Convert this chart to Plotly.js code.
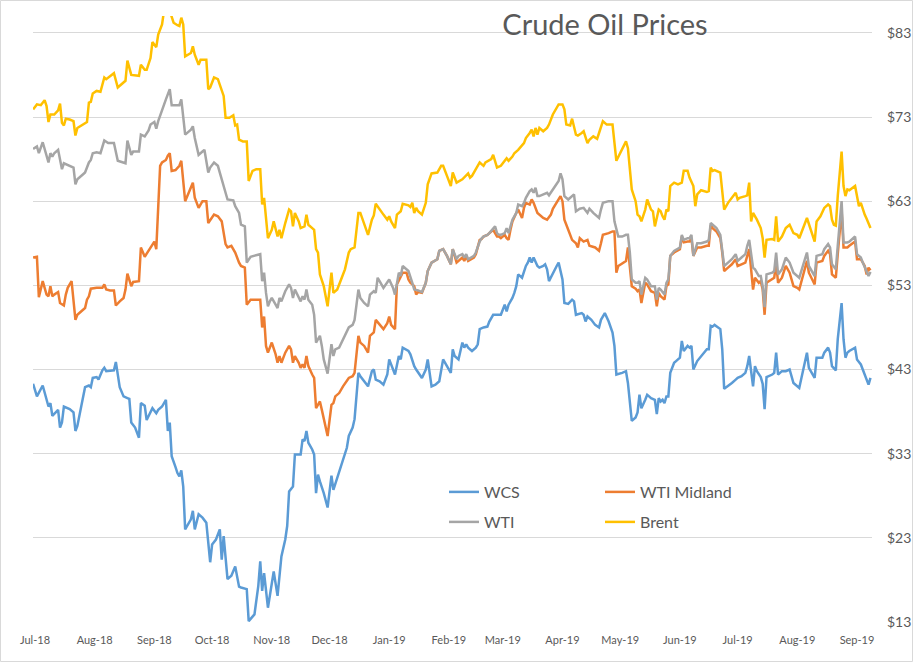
<!DOCTYPE html>
<html>
<head>
<meta charset="utf-8">
<script src="https://cdn.plot.ly/plotly-3.0.1.min.js"></script>
<style>html,body{margin:0;padding:0;background:#fff;}#chart{width:913px;height:662px;}</style>
</head>
<body>
<div id="chart"></div>
<script>
// ---- Data ----
const seriesNames = ["WCS", "WTI Midland", "WTI", "Brent"];
const monthTicks = ["2018-07-01","2018-08-01","2018-09-01","2018-10-01","2018-11-01","2018-12-01","2019-01-01","2019-02-01","2019-03-01","2019-04-01","2019-05-01","2019-06-01","2019-07-01","2019-08-01","2019-09-01"];
const priceTicks = [13, 23, 33, 43, 53, 63, 73, 83];
const priceTickLabels = ["$13", "$23", "$33", "$43", "$53", "$63", "$73", "$83"];

const brentDates = [
"2018-06-30","2018-07-02","2018-07-04","2018-07-06","2018-07-07","2018-07-08","2018-07-09","2018-07-11","2018-07-13","2018-07-14","2018-07-15","2018-07-16","2018-07-17","2018-07-19","2018-07-21","2018-07-22","2018-07-23","2018-07-25","2018-07-28","2018-07-29","2018-07-30","2018-07-31",
"2018-08-02","2018-08-04","2018-08-05","2018-08-06","2018-08-07","2018-08-09","2018-08-11","2018-08-13","2018-08-15","2018-08-17","2018-08-18","2018-08-20","2018-08-24","2018-08-25","2018-08-27","2018-08-28","2018-08-30","2018-08-31",
"2018-09-02","2018-09-03","2018-09-05","2018-09-06","2018-09-09","2018-09-10","2018-09-11","2018-09-13","2018-09-14","2018-09-15","2018-09-16","2018-09-17","2018-09-20","2018-09-21","2018-09-22","2018-09-24","2018-09-25","2018-09-28","2018-09-29","2018-09-30",
"2018-10-02","2018-10-04","2018-10-05","2018-10-07","2018-10-08","2018-10-10","2018-10-12","2018-10-13","2018-10-14","2018-10-15","2018-10-17","2018-10-19","2018-10-20","2018-10-22","2018-10-24","2018-10-26","2018-10-27","2018-10-28","2018-10-30",
"2018-11-01","2018-11-02","2018-11-04","2018-11-05","2018-11-06","2018-11-08","2018-11-10","2018-11-11","2018-11-12","2018-11-13","2018-11-15","2018-11-16","2018-11-18","2018-11-19","2018-11-20","2018-11-22","2018-11-23","2018-11-24","2018-11-25","2018-11-26","2018-11-28","2018-11-30",
"2018-12-02","2018-12-03","2018-12-05","2018-12-07","2018-12-09","2018-12-11","2018-12-12","2018-12-14","2018-12-16","2018-12-17","2018-12-19","2018-12-21","2018-12-23","2018-12-24","2018-12-25","2018-12-27","2018-12-29","2018-12-31",
"2019-01-01","2019-01-02","2019-01-04","2019-01-05","2019-01-07","2019-01-08","2019-01-11","2019-01-12","2019-01-13","2019-01-14","2019-01-15","2019-01-16","2019-01-18","2019-01-20","2019-01-21","2019-01-23","2019-01-26","2019-01-28","2019-01-29","2019-01-31",
"2019-02-02","2019-02-03","2019-02-05","2019-02-08","2019-02-11","2019-02-12","2019-02-13","2019-02-15","2019-02-17","2019-02-19","2019-02-20","2019-02-23","2019-02-24","2019-02-26","2019-02-28",
"2019-03-02","2019-03-03","2019-03-04","2019-03-06","2019-03-07","2019-03-09","2019-03-12","2019-03-13","2019-03-15","2019-03-16","2019-03-17","2019-03-18","2019-03-19","2019-03-20","2019-03-22","2019-03-24","2019-03-25","2019-03-27","2019-03-30",
"2019-04-01","2019-04-02","2019-04-03","2019-04-05","2019-04-06","2019-04-08","2019-04-09","2019-04-11","2019-04-12","2019-04-14","2019-04-15","2019-04-17","2019-04-19","2019-04-20","2019-04-22","2019-04-24","2019-04-26","2019-04-27","2019-04-29",
"2019-05-01","2019-05-03","2019-05-04","2019-05-05","2019-05-07","2019-05-09","2019-05-10","2019-05-11","2019-05-12","2019-05-14","2019-05-15","2019-05-16","2019-05-17","2019-05-18","2019-05-19","2019-05-21","2019-05-22","2019-05-23","2019-05-24","2019-05-25","2019-05-26","2019-05-27","2019-05-29","2019-05-31",
"2019-06-02","2019-06-03","2019-06-05","2019-06-06","2019-06-08","2019-06-09","2019-06-10","2019-06-12","2019-06-15","2019-06-16","2019-06-17","2019-06-18","2019-06-19","2019-06-22","2019-06-23","2019-06-24","2019-06-26","2019-06-28","2019-06-30",
"2019-07-01","2019-07-02","2019-07-05","2019-07-06","2019-07-07","2019-07-08","2019-07-09","2019-07-11","2019-07-13","2019-07-14","2019-07-15","2019-07-16","2019-07-19","2019-07-20","2019-07-21","2019-07-22","2019-07-24","2019-07-26","2019-07-28","2019-07-30",
"2019-08-01","2019-08-02","2019-08-06","2019-08-08","2019-08-10","2019-08-11","2019-08-13","2019-08-15","2019-08-17","2019-08-18","2019-08-19","2019-08-20","2019-08-21","2019-08-22","2019-08-24","2019-08-25","2019-08-26","2019-08-27","2019-08-28","2019-08-31",
"2019-09-01","2019-09-02","2019-09-03","2019-09-04","2019-09-05","2019-09-06","2019-09-08"];
const brentValues = [
73.9,74.5,74.4,75.0,74.3,72.4,73.3,73.3,73.8,74.6,72.3,72.0,72.8,72.7,72.5,70.8,71.7,72.0,72.4,74.7,74.8,75.8,
76.1,76.0,76.9,77.7,77.5,77.9,78.2,76.5,76.9,77.3,79.7,78.0,77.9,79.2,78.6,78.6,80.0,81.9,
81.3,82.8,84.0,85.6,85.6,85.0,84.2,83.9,83.8,84.8,84.0,80.2,80.6,81.4,80.4,79.2,79.8,79.8,76.3,76.5,
77.7,77.5,76.9,75.5,72.9,72.9,73.2,72.0,72.1,70.3,70.1,70.1,65.4,66.6,66.8,66.8,62.6,63.4,58.6,
59.6,60.6,58.8,59.6,58.6,60.4,62.0,61.8,60.0,61.6,60.6,59.8,60.0,61.4,60.2,59.8,59.6,57.3,56.9,54.3,52.9,50.5,
54.5,52.1,52.5,53.7,54.9,56.9,57.3,57.5,61.6,61.6,60.2,59.0,60.8,61.3,62.7,62.0,61.4,60.8,
61.2,60.6,59.8,61.4,61.8,62.7,62.5,62.3,62.8,61.6,62.2,61.8,61.4,62.8,65.0,66.3,66.4,67.2,67.2,66.0,
64.8,66.4,65.2,65.6,66.3,65.8,66.0,66.8,67.6,67.2,67.6,68.0,68.5,67.0,67.2,
67.8,68.1,67.8,68.3,68.7,69.1,69.9,70.5,71.1,71.5,70.7,71.7,70.9,71.7,71.3,71.7,72.1,73.3,74.5,
74.5,73.9,72.1,72.0,72.8,70.9,70.8,71.1,71.3,69.9,70.3,70.7,70.4,71.1,72.5,72.1,72.1,72.1,67.8,
68.7,69.5,70.1,69.3,64.4,63.0,61.4,61.2,60.6,62.0,63.2,62.6,62.0,61.8,60.0,62.0,61.8,61.2,60.8,62.0,61.8,64.8,65.2,65.0,
65.2,66.6,66.6,65.8,64.8,62.4,63.8,64.3,64.1,64.2,67.0,66.6,66.7,66.4,64.2,62.0,62.8,63.4,64.0,
63.2,63.4,63.6,63.7,65.2,60.6,61.6,60.8,59.8,58.6,56.3,58.4,58.5,58.4,61.2,58.2,58.8,59.8,60.2,59.2,
59.0,58.6,61.0,59.6,58.2,60.6,61.2,62.2,62.6,62.4,60.8,60.2,60.1,63.6,68.9,64.8,63.6,64.4,64.3,64.8,
63.6,62.4,62.8,62.0,61.4,60.9,59.8];

const wtiDates = [
"2018-06-30","2018-07-02","2018-07-03","2018-07-05","2018-07-08","2018-07-09","2018-07-10","2018-07-11","2018-07-13","2018-07-15","2018-07-16","2018-07-19","2018-07-21","2018-07-22","2018-07-23","2018-07-26","2018-07-27","2018-07-29","2018-07-30","2018-07-31",
"2018-08-02","2018-08-04","2018-08-05","2018-08-06","2018-08-08","2018-08-11","2018-08-13","2018-08-16","2018-08-17","2018-08-18","2018-08-20","2018-08-21","2018-08-24","2018-08-25","2018-08-27","2018-08-29","2018-08-30",
"2018-09-01","2018-09-02","2018-09-03","2018-09-05","2018-09-06","2018-09-07","2018-09-09","2018-09-10","2018-09-12","2018-09-14","2018-09-15","2018-09-17","2018-09-20","2018-09-21","2018-09-22","2018-09-24","2018-09-26","2018-09-27","2018-09-29","2018-09-30",
"2018-10-02","2018-10-04","2018-10-05","2018-10-07","2018-10-09","2018-10-12","2018-10-13","2018-10-15","2018-10-16","2018-10-18","2018-10-19","2018-10-21","2018-10-23","2018-10-26","2018-10-27","2018-10-28","2018-10-29","2018-10-30","2018-10-31",
"2018-11-01","2018-11-03","2018-11-04","2018-11-05","2018-11-06","2018-11-08","2018-11-10","2018-11-11","2018-11-12","2018-11-13","2018-11-16","2018-11-17","2018-11-18","2018-11-19","2018-11-20","2018-11-22","2018-11-23","2018-11-24","2018-11-26","2018-11-27","2018-11-28","2018-11-30",
"2018-12-02","2018-12-03","2018-12-04","2018-12-06","2018-12-08","2018-12-11","2018-12-13","2018-12-14","2018-12-16","2018-12-17","2018-12-19","2018-12-21","2018-12-22","2018-12-24","2018-12-25","2018-12-26","2018-12-27","2018-12-29",
"2019-01-01","2019-01-03","2019-01-04","2019-01-06","2019-01-07","2019-01-08","2019-01-11","2019-01-12","2019-01-13","2019-01-14","2019-01-16","2019-01-18","2019-01-20","2019-01-21","2019-01-23","2019-01-26","2019-01-27","2019-01-29","2019-01-31",
"2019-02-02","2019-02-03","2019-02-05","2019-02-06","2019-02-08","2019-02-09","2019-02-10","2019-02-11","2019-02-14","2019-02-15","2019-02-17","2019-02-18","2019-02-19","2019-02-21","2019-02-22","2019-02-24","2019-02-25","2019-02-26","2019-02-27","2019-02-28",
"2019-03-02","2019-03-03","2019-03-04","2019-03-05","2019-03-06","2019-03-08","2019-03-09","2019-03-11","2019-03-12","2019-03-13","2019-03-15","2019-03-16","2019-03-17","2019-03-18","2019-03-19","2019-03-20","2019-03-22","2019-03-24","2019-03-25","2019-03-27","2019-03-28","2019-03-30","2019-03-31",
"2019-04-01","2019-04-02","2019-04-04","2019-04-07","2019-04-08","2019-04-10","2019-04-12","2019-04-14","2019-04-15","2019-04-17","2019-04-20","2019-04-21","2019-04-22","2019-04-25","2019-04-27","2019-04-28","2019-04-30",
"2019-05-02","2019-05-04","2019-05-05","2019-05-06","2019-05-07","2019-05-09","2019-05-10","2019-05-11","2019-05-12","2019-05-14","2019-05-15","2019-05-16","2019-05-17","2019-05-19","2019-05-20","2019-05-21","2019-05-22","2019-05-24","2019-05-25","2019-05-26","2019-05-27","2019-05-29",
"2019-06-01","2019-06-02","2019-06-03","2019-06-05","2019-06-06","2019-06-07","2019-06-08","2019-06-10","2019-06-12","2019-06-15","2019-06-16","2019-06-17","2019-06-18","2019-06-20","2019-06-22","2019-06-23","2019-06-24","2019-06-26","2019-06-28","2019-06-30",
"2019-07-01","2019-07-03","2019-07-05","2019-07-06","2019-07-07","2019-07-09","2019-07-10","2019-07-12","2019-07-13","2019-07-14","2019-07-15","2019-07-16","2019-07-19","2019-07-20","2019-07-21","2019-07-22","2019-07-24","2019-07-26","2019-07-28","2019-07-30",
"2019-08-01","2019-08-02","2019-08-06","2019-08-07","2019-08-10","2019-08-11","2019-08-14","2019-08-15","2019-08-17","2019-08-18","2019-08-19","2019-08-21","2019-08-22","2019-08-24","2019-08-25","2019-08-27","2019-08-28","2019-08-31",
"2019-09-01","2019-09-03","2019-09-04","2019-09-06","2019-09-07","2019-09-08"];
const wtiValues = [
69.2,69.5,68.7,70.0,67.6,68.7,68.3,68.7,69.1,66.8,67.5,67.2,67.0,65.0,65.6,66.2,66.4,67.6,67.9,68.7,
68.8,68.7,69.6,70.2,69.9,69.9,67.8,67.6,67.5,70.2,68.5,68.9,68.9,70.9,70.7,71.4,72.1,
72.4,71.6,72.5,73.9,74.4,75.1,76.3,74.4,74.4,74.4,75.1,70.9,71.5,71.9,70.5,68.5,68.9,69.1,66.4,67.0,
67.6,67.2,66.4,64.8,63.2,63.1,62.4,61.6,60.2,60.0,55.7,56.4,56.5,56.7,53.5,54.5,52.1,50.5,51.1,
51.5,50.7,50.3,51.5,51.1,52.3,53.1,52.7,51.5,52.5,51.1,51.7,51.3,52.5,51.3,50.7,49.5,46.2,47.0,45.8,44.2,42.5,
46.0,44.6,45.4,45.6,46.6,48.0,48.3,48.9,52.5,51.5,50.9,50.5,51.9,52.3,52.1,53.9,53.5,52.7,
53.7,52.7,51.9,54.5,54.1,55.3,54.7,54.1,53.3,52.5,52.4,52.2,53.3,54.7,55.7,56.1,57.1,57.3,56.5,
55.5,57.3,56.1,56.5,56.7,56.3,56.7,56.1,56.5,56.9,58.2,58.6,58.8,59.0,59.2,59.8,60.0,59.2,59.0,59.0,
59.2,59.8,59.2,60.0,60.8,61.6,62.6,62.4,62.8,63.4,64.2,64.4,64.0,64.6,63.6,63.6,63.8,64.0,63.7,64.4,64.8,65.4,66.3,
65.6,63.6,63.2,63.8,61.8,62.1,62.2,61.6,62.1,61.6,61.0,62.0,62.8,63.0,63.0,60.6,58.8,
58.8,59.0,59.0,56.9,53.7,53.3,53.3,53.5,51.9,53.9,53.7,53.3,52.9,52.9,51.3,52.7,52.5,51.9,53.3,53.7,56.5,57.1,
57.5,59.0,58.4,58.6,58.6,59.0,56.5,58.0,58.0,58.2,58.4,60.4,60.2,59.8,59.0,57.3,55.3,55.7,56.1,56.7,
55.9,56.3,56.7,57.7,58.4,55.1,54.9,54.1,54.1,52.9,50.4,54.3,54.5,54.7,56.9,54.3,54.9,56.3,55.7,54.5,
54.1,53.9,56.9,55.3,54.1,56.5,56.7,57.3,57.9,57.5,55.5,54.9,57.7,63.0,58.1,58.1,58.2,58.8,
56.7,56.3,55.7,54.7,54.1,54.6];

const midlandDates = [
"2018-06-30","2018-07-02","2018-07-03","2018-07-04","2018-07-05","2018-07-07","2018-07-08","2018-07-09","2018-07-10","2018-07-11","2018-07-13","2018-07-14","2018-07-16","2018-07-17","2018-07-18","2018-07-20","2018-07-21","2018-07-22","2018-07-23","2018-07-25","2018-07-27","2018-07-28","2018-07-29","2018-07-30",
"2018-08-02","2018-08-05","2018-08-06","2018-08-07","2018-08-09","2018-08-11","2018-08-12","2018-08-14","2018-08-16","2018-08-17","2018-08-18","2018-08-20","2018-08-21","2018-08-24","2018-08-25","2018-08-27","2018-08-29","2018-08-31",
"2018-09-01","2018-09-02","2018-09-03","2018-09-04","2018-09-05","2018-09-07","2018-09-08","2018-09-09","2018-09-10","2018-09-12","2018-09-14","2018-09-15","2018-09-17","2018-09-20","2018-09-21","2018-09-22","2018-09-24","2018-09-26","2018-09-28","2018-09-29",
"2018-10-02","2018-10-04","2018-10-06","2018-10-08","2018-10-09","2018-10-11","2018-10-13","2018-10-15","2018-10-16","2018-10-18","2018-10-19","2018-10-21","2018-10-23","2018-10-26","2018-10-27","2018-10-28","2018-10-29","2018-10-30",
"2018-11-01","2018-11-03","2018-11-04","2018-11-05","2018-11-06","2018-11-08","2018-11-10","2018-11-11","2018-11-12","2018-11-13","2018-11-15","2018-11-16","2018-11-17","2018-11-18","2018-11-19","2018-11-20","2018-11-22","2018-11-23","2018-11-24","2018-11-26","2018-11-27","2018-11-28","2018-11-30",
"2018-12-02","2018-12-03","2018-12-04","2018-12-06","2018-12-08","2018-12-11","2018-12-13","2018-12-14","2018-12-16","2018-12-17","2018-12-19","2018-12-21","2018-12-22","2018-12-24","2018-12-25","2018-12-27","2018-12-29","2018-12-31",
"2019-01-01","2019-01-02","2019-01-04","2019-01-05","2019-01-07","2019-01-08","2019-01-10","2019-01-11","2019-01-12","2019-01-14","2019-01-15","2019-01-16","2019-01-18","2019-01-20","2019-01-21","2019-01-23","2019-01-26","2019-01-27","2019-01-29","2019-01-31",
"2019-02-02","2019-02-03","2019-02-05","2019-02-06","2019-02-08","2019-02-09","2019-02-10","2019-02-11","2019-02-14","2019-02-15","2019-02-17","2019-02-18","2019-02-19","2019-02-21","2019-02-22","2019-02-24","2019-02-26","2019-02-27","2019-02-28",
"2019-03-02","2019-03-03","2019-03-04","2019-03-05","2019-03-06","2019-03-08","2019-03-09","2019-03-11","2019-03-12","2019-03-13","2019-03-15","2019-03-16","2019-03-17","2019-03-19","2019-03-20","2019-03-22","2019-03-24","2019-03-26","2019-03-27","2019-03-29","2019-03-31",
"2019-04-01","2019-04-02","2019-04-04","2019-04-06","2019-04-08","2019-04-09","2019-04-10","2019-04-12","2019-04-14","2019-04-15","2019-04-18","2019-04-20","2019-04-21","2019-04-22","2019-04-25","2019-04-27","2019-04-28","2019-04-29","2019-04-30",
"2019-05-03","2019-05-04","2019-05-05","2019-05-07","2019-05-09","2019-05-10","2019-05-11","2019-05-12","2019-05-14","2019-05-15","2019-05-16","2019-05-17","2019-05-19","2019-05-20","2019-05-21","2019-05-22","2019-05-24","2019-05-25","2019-05-26","2019-05-27","2019-05-29",
"2019-06-01","2019-06-02","2019-06-03","2019-06-05","2019-06-06","2019-06-07","2019-06-08","2019-06-10","2019-06-12","2019-06-15","2019-06-16","2019-06-17","2019-06-18","2019-06-20","2019-06-22","2019-06-23","2019-06-24","2019-06-26","2019-06-28","2019-06-30",
"2019-07-01","2019-07-03","2019-07-05","2019-07-06","2019-07-07","2019-07-09","2019-07-10","2019-07-12","2019-07-13","2019-07-14","2019-07-15","2019-07-16","2019-07-19","2019-07-20","2019-07-21","2019-07-22","2019-07-24","2019-07-26","2019-07-28","2019-07-30",
"2019-08-01","2019-08-02","2019-08-06","2019-08-07","2019-08-10","2019-08-11","2019-08-14","2019-08-15","2019-08-17","2019-08-18","2019-08-19","2019-08-21","2019-08-22","2019-08-24","2019-08-25","2019-08-27","2019-08-28","2019-08-31",
"2019-09-01","2019-09-03","2019-09-05","2019-09-06","2019-09-07","2019-09-08"];
const midlandValues = [
56.3,56.4,51.6,52.5,53.5,51.9,51.7,52.9,51.7,51.9,52.2,50.9,50.6,51.9,52.7,53.5,51.3,48.9,49.5,49.9,50.3,51.3,51.7,52.6,
52.7,52.7,53.1,52.5,52.4,52.4,50.6,51.1,51.5,52.5,54.4,52.9,53.4,53.5,57.5,56.4,57.1,57.7,
58.2,57.3,63.2,67.2,67.6,67.9,68.4,68.7,66.6,66.7,67.2,67.8,63.0,64.6,65.2,63.4,62.2,63.0,63.0,60.4,
61.4,61.2,60.6,57.9,57.5,57.7,56.9,55.7,55.3,55.1,50.7,51.3,51.3,51.3,48.0,49.3,45.8,45.0,
46.2,44.8,43.8,44.6,43.8,45.0,45.8,45.4,43.8,44.6,43.8,43.2,43.6,43.2,44.6,43.4,42.4,42.0,38.4,39.2,38.2,37.1,35.1,
38.8,39.0,39.8,40.2,41.0,42.0,42.2,42.6,47.0,46.2,45.8,45.0,47.0,47.4,48.9,48.3,47.8,48.5,
49.3,48.3,47.8,53.1,54.1,54.5,54.5,53.7,53.3,52.9,51.9,52.2,52.1,53.3,54.7,55.7,56.1,57.1,57.3,56.5,
55.5,57.3,55.7,55.9,56.3,55.9,56.5,55.9,56.3,56.7,58.4,58.5,58.8,59.0,59.2,59.6,58.8,58.8,58.6,
59.0,58.6,58.4,59.6,60.6,61.6,62.0,61.0,62.2,62.8,62.6,63.2,62.8,61.6,61.4,61.0,60.8,61.4,62.1,62.8,63.6,
63.0,60.8,59.6,58.4,58.0,57.5,58.6,58.2,58.4,57.7,57.5,57.1,58.0,59.0,59.2,59.4,59.4,54.5,55.3,
55.7,55.9,57.5,52.9,52.6,52.3,52.5,50.9,53.3,53.1,52.7,52.3,52.1,50.5,52.1,51.7,51.3,52.9,53.1,56.5,56.9,
57.3,58.8,58.1,58.2,58.2,58.6,56.5,57.5,57.5,57.7,57.7,60.1,59.8,59.4,58.6,56.9,54.7,55.1,55.5,56.1,
55.3,55.5,55.7,56.5,57.3,52.5,53.9,53.3,53.5,52.5,49.5,53.3,53.7,53.9,55.7,53.3,53.9,55.3,54.5,52.9,
52.7,52.5,55.9,54.5,53.1,55.7,55.9,56.5,57.1,56.7,54.3,53.9,56.7,61.9,57.5,57.5,57.7,58.2,
56.1,56.1,55.3,54.3,55.1,54.8];

const wcsDates = [
"2018-06-30","2018-07-02","2018-07-05","2018-07-08","2018-07-09","2018-07-10","2018-07-13","2018-07-14","2018-07-15","2018-07-16","2018-07-19","2018-07-21","2018-07-22","2018-07-23","2018-07-25","2018-07-27","2018-07-29","2018-07-30","2018-07-31",
"2018-08-02","2018-08-03","2018-08-05","2018-08-06","2018-08-07","2018-08-11","2018-08-12","2018-08-14","2018-08-16","2018-08-18","2018-08-19","2018-08-20","2018-08-22","2018-08-24","2018-08-25","2018-08-27","2018-08-28","2018-08-31",
"2018-09-02","2018-09-03","2018-09-05","2018-09-07","2018-09-08","2018-09-09","2018-09-10","2018-09-12","2018-09-13","2018-09-14","2018-09-15","2018-09-16","2018-09-17","2018-09-20","2018-09-21","2018-09-22","2018-09-24","2018-09-26","2018-09-28","2018-09-30",
"2018-10-01","2018-10-03","2018-10-05","2018-10-06","2018-10-07","2018-10-09","2018-10-11","2018-10-13","2018-10-15","2018-10-16","2018-10-19","2018-10-20","2018-10-22","2018-10-23","2018-10-25","2018-10-26","2018-10-27","2018-10-28","2018-10-30",
"2018-11-01","2018-11-02","2018-11-04","2018-11-06","2018-11-08","2018-11-09","2018-11-10","2018-11-12","2018-11-13","2018-11-16","2018-11-17","2018-11-18","2018-11-19","2018-11-20","2018-11-22","2018-11-23","2018-11-24","2018-11-25","2018-11-26","2018-11-28","2018-11-30",
"2018-12-02","2018-12-03","2018-12-07","2018-12-10","2018-12-11","2018-12-13","2018-12-14","2018-12-16","2018-12-17","2018-12-19","2018-12-21","2018-12-23","2018-12-24","2018-12-25","2018-12-27","2018-12-29","2018-12-31",
"2019-01-01","2019-01-03","2019-01-04","2019-01-06","2019-01-07","2019-01-08","2019-01-11","2019-01-12","2019-01-14","2019-01-15","2019-01-18","2019-01-20","2019-01-21","2019-01-23","2019-01-25","2019-01-27","2019-01-29","2019-01-31",
"2019-02-02","2019-02-03","2019-02-04","2019-02-06","2019-02-08","2019-02-09","2019-02-10","2019-02-11","2019-02-13","2019-02-15","2019-02-16","2019-02-17","2019-02-19","2019-02-21","2019-02-22","2019-02-24","2019-02-27","2019-02-28",
"2019-03-02","2019-03-03","2019-03-04","2019-03-06","2019-03-07","2019-03-08","2019-03-09","2019-03-11","2019-03-13","2019-03-14","2019-03-15","2019-03-16","2019-03-17","2019-03-19","2019-03-20","2019-03-22","2019-03-23","2019-03-24","2019-03-25","2019-03-27","2019-03-29","2019-03-30",
"2019-04-01","2019-04-02","2019-04-04","2019-04-06","2019-04-07","2019-04-08","2019-04-11","2019-04-12","2019-04-13","2019-04-14","2019-04-16","2019-04-18","2019-04-20","2019-04-21","2019-04-23","2019-04-25","2019-04-27","2019-04-28","2019-04-29",
"2019-05-02","2019-05-04","2019-05-05","2019-05-06","2019-05-07","2019-05-09","2019-05-10","2019-05-11","2019-05-12","2019-05-14","2019-05-15","2019-05-16","2019-05-17","2019-05-19","2019-05-20","2019-05-21","2019-05-22","2019-05-23","2019-05-24","2019-05-25","2019-05-26","2019-05-27","2019-05-29","2019-05-30",
"2019-06-01","2019-06-02","2019-06-03","2019-06-05","2019-06-06","2019-06-07","2019-06-08","2019-06-10","2019-06-12","2019-06-15","2019-06-16","2019-06-17","2019-06-18","2019-06-19","2019-06-22","2019-06-23","2019-06-24","2019-06-26","2019-06-28","2019-06-30",
"2019-07-01","2019-07-03","2019-07-05","2019-07-06","2019-07-07","2019-07-09","2019-07-10","2019-07-11","2019-07-13","2019-07-14","2019-07-15","2019-07-16","2019-07-19","2019-07-20","2019-07-21","2019-07-22","2019-07-24","2019-07-26","2019-07-28","2019-07-30",
"2019-08-01","2019-08-02","2019-08-06","2019-08-07","2019-08-10","2019-08-11","2019-08-14","2019-08-15","2019-08-17","2019-08-18","2019-08-19","2019-08-21","2019-08-22","2019-08-24","2019-08-25","2019-08-26","2019-08-27","2019-08-28","2019-08-31",
"2019-09-01","2019-09-03","2019-09-04","2019-09-06","2019-09-07","2019-09-08"];
const wcsValues = [
41.3,39.8,41.1,38.6,39.0,37.5,38.2,36.1,36.7,38.6,38.3,37.9,35.7,36.3,38.6,40.9,41.1,40.9,42.0,
42.1,41.8,42.9,43.2,42.8,42.9,43.9,40.9,39.8,39.6,39.5,36.7,36.1,34.9,39.0,38.7,37.0,38.4,
37.8,38.2,38.6,39.4,35.7,36.7,32.7,31.4,30.7,30.3,31.0,29.1,24.0,25.2,26.2,24.0,25.8,25.4,24.8,20.1,
22.2,22.8,24.0,20.4,23.2,18.1,18.5,19.6,17.2,17.1,16.9,13.1,13.7,13.9,17.3,20.2,16.7,18.8,14.7,
17.5,19.0,16.1,20.8,22.8,24.4,28.5,29.1,32.9,32.9,34.7,34.5,35.7,34.3,33.5,32.9,28.3,30.5,29.7,28.3,26.6,
30.4,28.7,31.5,33.7,35.1,36.1,37.1,42.6,42.2,41.6,41.0,42.8,43.0,41.8,41.6,41.2,42.4,
44.2,43.0,42.4,44.6,44.2,45.6,45.2,44.8,43.4,43.0,42.0,43.0,44.2,41.0,41.2,41.6,44.2,43.4,
42.6,45.4,44.6,44.2,46.2,45.6,46.0,45.6,45.2,45.6,46.0,47.8,48.0,48.1,48.7,49.5,49.5,49.5,
50.7,49.9,50.7,51.5,52.1,52.9,54.3,53.9,55.3,55.7,56.3,55.7,56.3,55.3,55.1,55.3,55.5,54.9,53.5,54.5,55.3,55.7,
53.7,50.9,50.8,51.3,51.1,49.5,49.7,49.5,48.7,49.3,48.9,48.3,48.0,48.9,49.7,48.7,47.4,45.8,42.4,
42.6,42.8,41.4,39.4,36.9,37.3,37.9,40.0,38.4,39.4,40.0,39.8,39.6,39.4,37.7,39.6,39.2,39.4,39.0,39.8,39.8,42.6,43.8,44.0,
44.4,46.4,45.2,45.8,45.6,45.8,43.0,44.0,44.6,45.4,45.4,48.2,48.1,48.3,47.8,45.4,40.7,41.0,41.4,41.8,
42.0,42.2,42.6,43.4,44.6,41.0,43.4,42.8,42.1,41.3,38.3,42.1,42.4,42.6,45.0,42.4,42.8,42.8,43.0,41.4,
41.0,40.8,45.0,43.2,42.0,44.4,44.4,45.0,45.6,45.0,43.4,42.9,46.6,50.9,46.6,44.4,45.0,45.2,45.6,
44.2,43.6,43.0,42.0,41.2,42.0];

const seriesColors = ["#5B9BD5", "#ED7D31", "#A5A5A5", "#FFC000"];

// ---- Layout geometry (pixels) ----
const W = 913, H = 662;
const M = {l: 33, r: 41, t: 16, b: 40};
const plotW = W - M.l - M.r, plotH = H - M.t - M.b;
const px = v => (v - M.l) / plotW;          // container px -> paper x
const py = v => (H - M.b - v) / plotH;       // container px -> paper y

const textColor = "#595959";
const fontFam = "Lato, 'Open Sans', 'DejaVu Sans', sans-serif";

const xs = [wcsDates, midlandDates, wtiDates, brentDates];
const ys = [wcsValues, midlandValues, wtiValues, brentValues];
const legendIds = ["legend", "legend2", "legend3", "legend4"];

const traces = seriesNames.map((name, i) => ({
  type: "scatter", mode: "lines", name: name,
  x: xs[i], y: ys[i],
  line: {color: seriesColors[i], width: 2.5},
  legend: legendIds[i],
  hoverinfo: "skip"
}));

function legendAt(lx, ly) {
  return {
    x: px(lx), y: py(ly), xanchor: "left", yanchor: "middle",
    bgcolor: "rgba(0,0,0,0)", borderwidth: 0,
    font: {family: fontFam, size: 16, color: textColor},
    itemwidth: 30
  };
}

const layout = {
  width: W, height: H,
  margin: M,
  paper_bgcolor: "#ffffff", plot_bgcolor: "#ffffff",
  font: {family: fontFam, color: textColor},
  title: {
    text: "Crude Oil Prices",
    font: {family: fontFam, size: 29, color: textColor},
    xref: "container", yref: "container",
    x: 605 / W, xanchor: "center",
    y: 1 - 25 / H, yanchor: "middle"
  },
  xaxis: {
    type: "date",
    range: ["2018-06-29 23:00", "2019-09-08 19:00"],
    tickvals: monthTicks, tickformat: "%b-%y",
    showgrid: false, zeroline: false, showline: false, ticks: "",
    ticklabelstandoff: 10,
    tickfont: {family: fontFam, size: 11, color: textColor},
    fixedrange: true
  },
  yaxis: {
    side: "right",
    range: [13, 85],
    tickmode: "array",
    tickvals: priceTicks, ticktext: priceTickLabels,
    showgrid: true, gridcolor: "#D9D9D9", gridwidth: 1,
    zeroline: false, showline: false, ticks: "",
    ticklabelstandoff: 14,
    tickfont: {family: fontFam, size: 14, color: textColor},
    fixedrange: true
  },
  legend: legendAt(444, 492),
  legend2: legendAt(600, 492),
  legend3: legendAt(444, 522),
  legend4: legendAt(600, 522),
  shapes: [{
    type: "rect", xref: "paper", yref: "paper",
    x0: px(0.5), x1: px(912.5), y0: py(661.5), y1: py(0.5),
    line: {color: "#D9D9D9", width: 1}, fillcolor: "rgba(0,0,0,0)", layer: "above"
  }],
  hovermode: false,
  showlegend: true
};

Plotly.newPlot("chart", traces, layout, {staticPlot: true, displayModeBar: false});
</script>
</body>
</html>
